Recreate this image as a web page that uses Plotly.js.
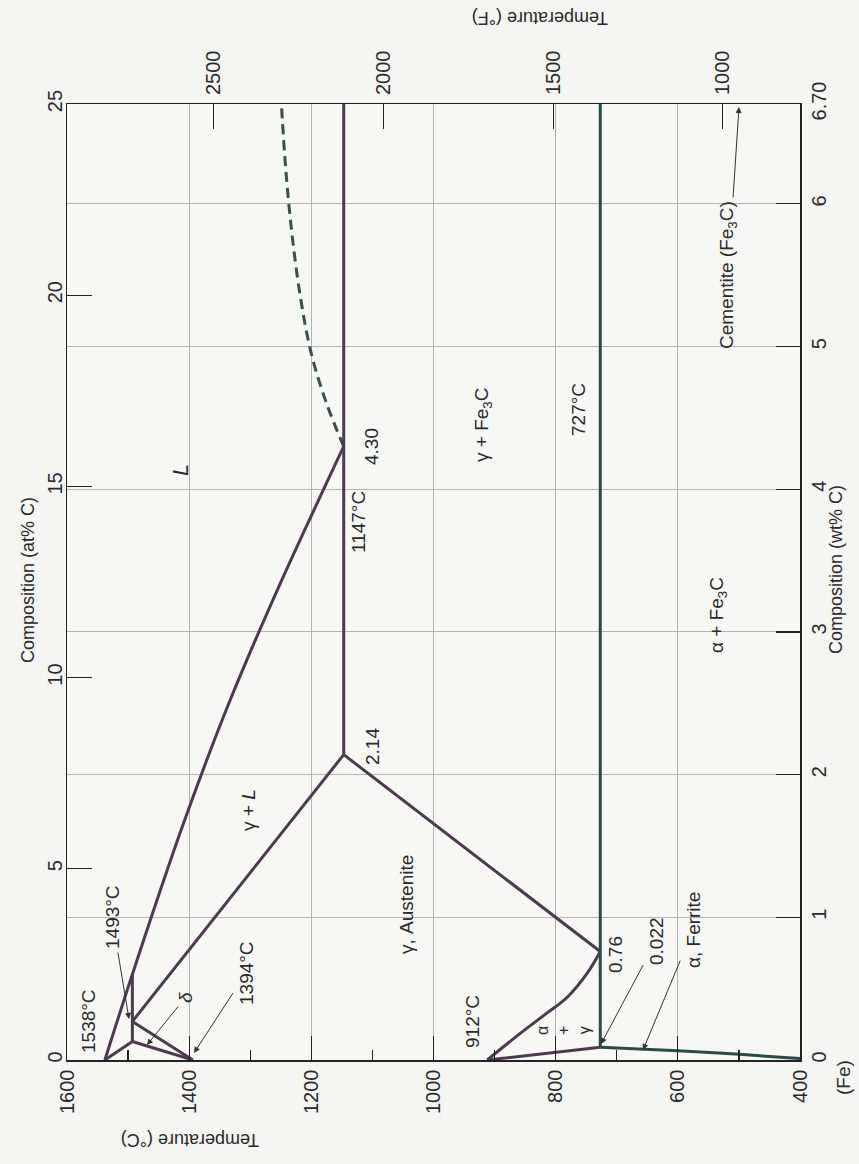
<!DOCTYPE html>
<html><head><meta charset="utf-8">
<script src="https://cdn.plot.ly/plotly-3.0.1.min.js"></script>
<style>html,body{margin:0;padding:0;background:#f5f5f3;}#chart{width:859px;height:1164px;}</style>
</head><body><div id="chart"></div>
<script>
// ---- phase boundary data (temperature °C, composition wt% C) ----
const liquidusT = [1538, 1493, 1410, 1335, 1255, 1147];
const liquidusW = [0, 0.60, 1.65, 2.50, 3.30, 4.30];
const cementiteLiqT = [1147, 1175, 1200, 1218, 1232, 1242, 1249];
const cementiteLiqW = [4.30, 4.60, 4.95, 5.35, 5.80, 6.25, 6.70];
const deltaSolidusT = [1538, 1493];
const deltaSolidusW = [0, 0.13];
const peritecticT = [1493, 1493];
const peritecticW = [0.13, 0.60];
const deltaSolvusT = [1493, 1394];
const deltaSolvusW = [0.13, 0];
const gammaDeltaT = [1493, 1394];
const gammaDeltaW = [0.27, 0];
const gammaSolidusT = [1493, 1147];
const gammaSolidusW = [0.27, 2.14];
const eutecticT = [1147, 1147];
const eutecticW = [2.14, 6.70];
const acmT = [1147, 727];
const acmW = [2.14, 0.76];
const a3T = [912, 857, 814, 781, 748, 727];
const a3W = [0, 0.19, 0.33, 0.44, 0.61, 0.76];
const alphaGammaT = [912, 727];
const alphaGammaW = [0, 0.09];
const eutectoidT = [727, 727];
const eutectoidW = [0.09, 6.70];
const alphaSolvusT = [727, 600, 500, 400];
const alphaSolvusW = [0.09, 0.065, 0.04, 0.01];

// ---- axis ticks ----
const wtTicks = [0, 1, 2, 3, 4, 5, 6, 6.70];
const wtTickText = ['0', '1', '2', '3', '4', '5', '6', '6.70'];
const atTicks = [0, 5, 10, 15, 20, 25];
const fTicks = [2500, 2000, 1500, 1000];

const ink = '#4a3c4c';
const teal = '#2f4a45';
const FONT = 'Liberation Sans, Arial, sans-serif';

function seg(x, y, color, dash, shape) {
  return {x: x, y: y, type: 'scatter', mode: 'lines', xaxis: 'x', yaxis: 'y',
    line: {color: color || ink, width: 3, dash: dash || 'solid', shape: shape || 'linear'},
    hoverinfo: 'skip', showlegend: false};
}
const traces = [
  seg(liquidusT, liquidusW, ink, 'solid', 'spline'),
  seg(cementiteLiqT, cementiteLiqW, '#3c4f4b', '10px,6px', 'spline'),
  seg(deltaSolidusT, deltaSolidusW),
  seg(peritecticT, peritecticW),
  seg(deltaSolvusT, deltaSolvusW),
  seg(gammaDeltaT, gammaDeltaW),
  seg(gammaSolidusT, gammaSolidusW),
  seg(eutecticT, eutecticW),
  seg(acmT, acmW),
  seg(a3T, a3W, ink, 'solid', 'spline'),
  seg(alphaGammaT, alphaGammaW),
  seg(eutectoidT, eutectoidW, teal),
  seg(alphaSolvusT, alphaSolvusW, teal, 'solid', 'spline'),
  // empty trace so the secondary (°F / at%) axes are drawn
  {x: [], y: [], type: 'scatter', mode: 'lines', xaxis: 'x2', yaxis: 'y2', showlegend: false, hoverinfo: 'skip'}
];

// plot area in pixels
const L = 67, R = 800, TOP = 104, BOT = 1060;
const P = px => (px - L) / (R - L);
const Q = py => (BOT - py) / (BOT - TOP);

function lab(text, px, py, size, angle) {
  return {x: P(px), y: Q(py), xref: 'paper', yref: 'paper', text: text,
    showarrow: false, textangle: angle === undefined ? -90 : angle,
    xanchor: 'center', yanchor: 'middle',
    font: {family: FONT, size: size || 19, color: '#2a2a2a'}};
}
// label whose leader arrow points from the text (centre tx,ty) to the head (hx,hy)
function labArr(text, tx, ty, hx, hy, size) {
  return {x: P(hx), y: Q(hy), xref: 'paper', yref: 'paper', text: text,
    showarrow: true, ax: tx - hx, ay: ty - hy, textangle: -90,
    arrowhead: 2, arrowsize: 1.2, arrowwidth: 1, arrowcolor: '#333', standoff: 0, startstandoff: 2,
    font: {family: FONT, size: size || 19, color: '#2a2a2a'}};
}

const annotations = [
  lab('1538°C', 88, 1021),
  labArr('1493°C', 112, 917, 129, 1019),
  labArr('<i>δ</i>', 185, 998, 147, 1045),
  labArr('1394°C', 246, 973, 194, 1053),
  lab('γ + <i>L</i>', 248, 810),
  lab('<i>L</i>', 180, 470, 22),
  lab('γ, Austenite', 406, 905),
  lab('1147°C', 358, 522),
  lab('2.14', 373, 747),
  lab('4.30', 372, 447),
  lab('γ + Fe<sub>3</sub>C', 483, 425),
  lab('727°C', 578, 410),
  lab('912°C', 472, 1022),
  lab('0.76', 615, 955),
  labArr('0.022', 656, 941, 601, 1044),
  labArr('α, Ferrite', 693, 930, 643, 1050),
  lab('α<br>+<br>γ', 563, 1031, 16),
  lab('α + Fe<sub>3</sub>C', 718, 615),
  labArr('Cementite (Fe<sub>3</sub>C)', 728, 275, 739, 107),
  lab('(Fe)', 843, 1078, 19),
  lab('Temperature (°C)', 190, 1140, 18, 180),
  lab('Temperature (°F)', 540, 18, 18, 180),
  lab('Composition (at% C)', 28, 580, 18),
  lab('Composition (wt% C)', 836, 570, 18)
];

const tickFont = {family: FONT, size: 20, color: '#2a2a2a'};
const layout = {
  width: 859, height: 1164,
  margin: {l: L, r: 859 - R, t: TOP, b: 1164 - BOT, pad: 0},
  paper_bgcolor: '#f5f5f3', plot_bgcolor: '#f7f7f5',
  showlegend: false,
  xaxis: {range: [1600, 400], tickmode: 'linear', tick0: 400, dtick: 200,
    ticks: 'inside', ticklen: 24, tickwidth: 1.2, tickcolor: '#222',
    minor: {tickmode: 'linear', tick0: 400, dtick: 100, ticks: 'inside', ticklen: 10, tickcolor: '#222', showgrid: false},
    showgrid: true, gridcolor: '#b4b4b4', gridwidth: 1, zeroline: false,
    showline: true, linecolor: '#222', linewidth: 1.5, mirror: true,
    tickangle: -90, tickfont: tickFont},
  xaxis2: {range: [2933, 773], overlaying: 'x', side: 'top', anchor: 'y2',
    tickmode: 'array', tickvals: fTicks, ticks: 'inside', ticklen: 25, tickwidth: 1, tickcolor: '#222',
    ticklabelstandoff: 8,
    showgrid: false, zeroline: false, showline: false, tickangle: -90, tickfont: tickFont},
  yaxis: {range: [0, 6.70], side: 'right', tickmode: 'array', tickvals: wtTicks, ticktext: wtTickText,
    ticks: 'inside', ticklen: 24, tickwidth: 1.2, tickcolor: '#222',
    showgrid: true, gridcolor: '#b4b4b4', gridwidth: 1, zeroline: false,
    showline: true, linecolor: '#222', linewidth: 1.5, mirror: true,
    tickangle: -90, tickfont: tickFont},
  yaxis2: {range: [0, 25], overlaying: 'y', side: 'left', anchor: 'x2',
    tickmode: 'array', tickvals: atTicks, ticks: 'inside', ticklen: 25, tickwidth: 1.2, tickcolor: '#222',
    showgrid: false, zeroline: false, showline: false, tickangle: -90, tickfont: tickFont},
  annotations: annotations
};
Plotly.newPlot('chart', traces, layout, {staticPlot: true, displayModeBar: false});
</script></body></html>
